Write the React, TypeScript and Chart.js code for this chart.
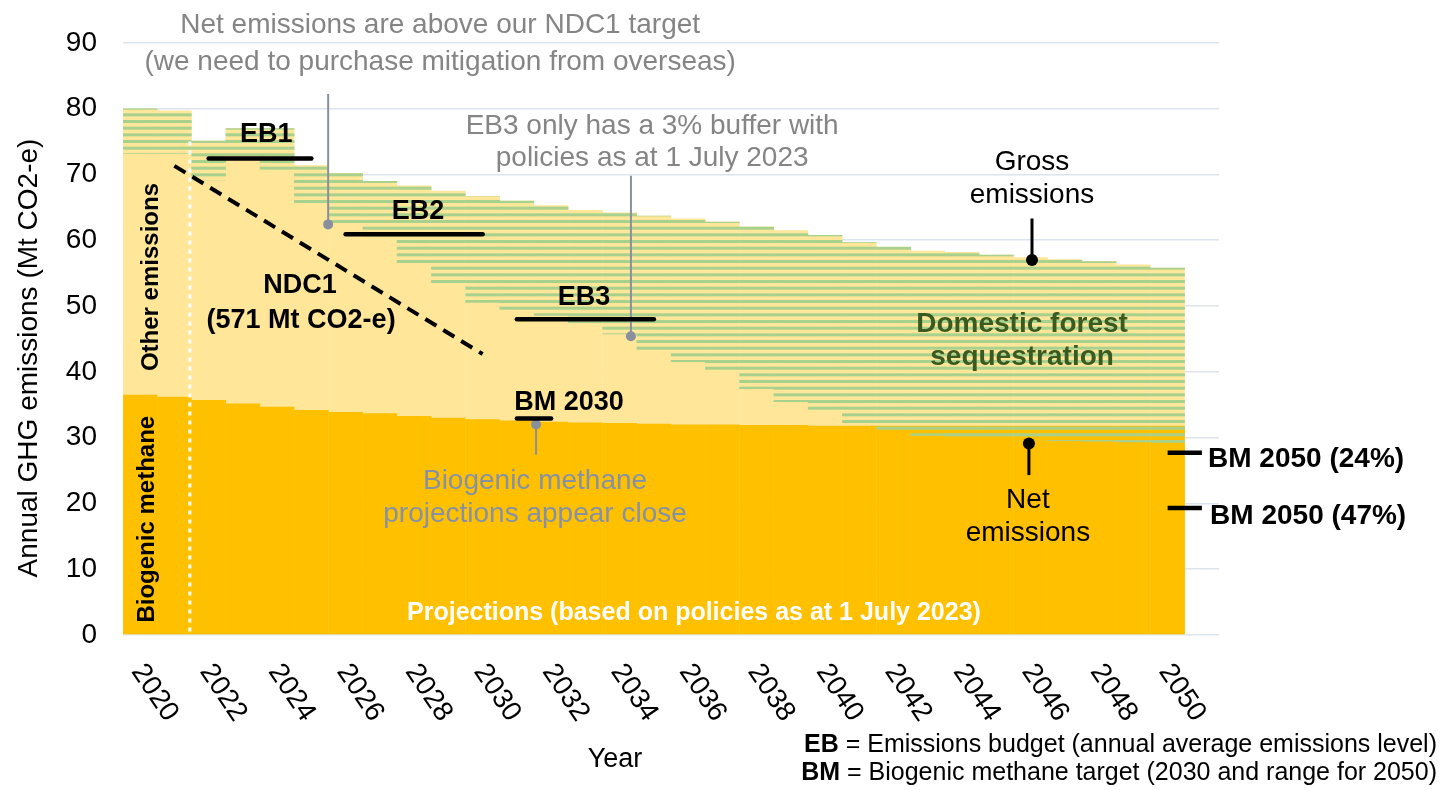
import React, { useEffect, useRef } from 'react';
import { Chart, registerables } from 'chart.js';

Chart.register(...registerables);

// ---------------- data ----------------
const years = [
  2020, 2021, 2022, 2023, 2024, 2025, 2026, 2027, 2028, 2029, 2030,
  2031, 2032, 2033, 2034, 2035, 2036, 2037, 2038, 2039, 2040,
  2041, 2042, 2043, 2044, 2045, 2046, 2047, 2048, 2049, 2050,
];
const grossEmissions = [
  80.0, 79.7, 75.1, 77.0, 77.0, 71.4, 70.2, 69.0, 68.3, 67.5, 66.7,
  66.0, 65.3, 64.6, 64.2, 63.7, 63.3, 62.8, 62.1, 61.5, 60.8,
  59.7, 59.0, 58.4, 58.2, 57.8, 57.4, 57.1, 56.8, 56.3, 55.8,
];
const netEmissions = [
  73.1, 73.1, 69.1, 72.8, 70.6, 65.3, 62.3, 60.1, 56.3, 53.5, 50.5,
  49.3, 48.5, 47.0, 45.7, 43.0, 41.5, 40.2, 37.4, 35.4, 33.9,
  31.8, 31.0, 30.3, 30.0, 29.8, 29.6, 29.5, 29.4, 29.3, 29.2,
];
const biogenicMethane = [
  36.5, 36.2, 35.7, 35.2, 34.7, 34.2, 33.9, 33.7, 33.3, 33.0, 32.8,
  32.6, 32.4, 32.3, 32.2, 32.1, 32.0, 32.0, 31.9, 31.9, 31.8,
  31.8, 31.8, 31.8, 31.8, 31.8, 31.8, 31.8, 31.8, 31.8, 31.8,
];
const xTickYears = [2020, 2022, 2024, 2026, 2028, 2030, 2032, 2034, 2036, 2038, 2040, 2042, 2044, 2046, 2048, 2050];

const emissionsBudgets = [
  { label: 'EB1', from: 2022, to: 2025, value: 72.4 },
  { label: 'EB2', from: 2026, to: 2030, value: 60.9 },
  { label: 'EB3', from: 2031, to: 2035, value: 48.0 },
];
const bm2030Target = { from: 2031, to: 2032, value: 32.9 };
const bm2050Targets = [
  { label: 'BM 2050 (24%)', from: 2050, to: 2051, value: 27.7 },
  { label: 'BM 2050 (47%)', from: 2050, to: 2051, value: 19.3 },
];
const ndc1Path = [
  { x: 2021, y: 71.3 },
  { x: 2030, y: 42.7 },
];
const projectionStart = { x: 2021.45, top: 75, bottom: 0 };

// pointer lines: dot at "to"
const pointers = [
  { x: 2025.49, from: 82.2, to: 62.4, tone: 'gray' },
  { x: 2034.33, from: 69.8, to: 45.4, tone: 'gray' },
  { x: 2031.56, from: 27.4, to: 32.0, tone: 'gray' },
  { x: 2046.04, from: 63.3, to: 57.0, tone: 'black' },
  { x: 2045.95, from: 24.3, to: 29.1, tone: 'black' },
];

// annotation texts (placed in data coordinates)
const annotations = [
  { text: 'Net emissions are above our NDC1 target', x: 2028.76, y: 92.7, kind: 'note' },
  { text: '(we need to purchase mitigation from overseas)', x: 2028.76, y: 87.1, kind: 'note' },
  { text: 'EB3 only has a 3% buffer with', x: 2034.95, y: 77.3, kind: 'note' },
  { text: 'policies as at 1 July 2023', x: 2034.95, y: 72.4, kind: 'note' },
  { text: 'Gross', x: 2046.04, y: 71.9, kind: 'plain' },
  { text: 'emissions', x: 2046.04, y: 66.8, kind: 'plain' },
  { text: 'Domestic forest', x: 2045.75, y: 47.2, kind: 'forest' },
  { text: 'sequestration', x: 2045.75, y: 42.2, kind: 'forest' },
  { text: 'Net', x: 2045.92, y: 20.4, kind: 'plain' },
  { text: 'emissions', x: 2045.92, y: 15.4, kind: 'plain' },
  { text: 'EB1', x: 2023.68, y: 76.1, kind: 'bold' },
  { text: 'EB2', x: 2028.11, y: 64.4, kind: 'bold' },
  { text: 'EB3', x: 2032.96, y: 51.3, kind: 'bold' },
  { text: 'BM 2030', x: 2032.52, y: 35.4, kind: 'bold' },
  { text: 'NDC1', x: 2024.67, y: 53.1, kind: 'bold' },
  { text: '(571 Mt CO2-e)', x: 2024.7, y: 47.8, kind: 'bold' },
  { text: 'Biogenic methane', x: 2031.53, y: 23.4, kind: 'note2' },
  { text: 'projections appear close', x: 2031.53, y: 18.4, kind: 'note2' },
  { text: 'Projections (based on policies as at 1 July 2023)', x: 2036.17, y: 3.3, kind: 'white' },
  { text: 'BM 2050 (24%)', x: 2051.18, y: 26.7, kind: 'boldLeft' },
  { text: 'BM 2050 (47%)', x: 2051.24, y: 18.1, kind: 'boldLeft' },
  { text: 'Other emissions', x: 2020.32, y: 54.4, kind: 'vertical' },
  { text: 'Biogenic methane', x: 2020.2, y: 17.6, kind: 'vertical' },
];

const yAxisTitle = 'Annual GHG emissions (Mt CO2-e)';
const xAxisTitle = 'Year';
const legendLines = [
  { key: 'EB', rest: ' = Emissions budget (annual average emissions level)' },
  { key: 'BM', rest: ' = Biogenic methane target (2030 and range for 2050)' },
];

// ---------------- styles ----------------
const FONT = '"Liberation Sans", Arial, Helvetica, sans-serif';
const ORANGE = '#FFC000';
const LIGHT = '#FFE699';
const GREEN = '#A9D18E';
const GRAY_LINE = '#8a8f9e';

const kindStyle: Record<string, { font: string; color: string; align: CanvasTextAlign; rot?: number }> = {
  note: { font: `28px ${FONT}`, color: '#858585', align: 'center' },
  note2: { font: `28px ${FONT}`, color: '#8791a6', align: 'center' },
  plain: { font: `28px ${FONT}`, color: '#000000', align: 'center' },
  forest: { font: `bold 28px ${FONT}`, color: '#3b5a20', align: 'center' },
  bold: { font: `bold 27px ${FONT}`, color: '#000000', align: 'center' },
  boldLeft: { font: `bold 28px ${FONT}`, color: '#000000', align: 'left' },
  white: { font: `bold 25px ${FONT}`, color: '#ffffff', align: 'center' },
  vertical: { font: `bold 24px ${FONT}`, color: '#000000', align: 'center', rot: -Math.PI / 2 },
};

function makeStripePattern(ctx: CanvasRenderingContext2D) {
  const c = document.createElement('canvas');
  c.width = 4;
  c.height = 20;
  const g = c.getContext('2d')!;
  g.fillStyle = GREEN;
  for (let k = 0; k < 3; k++) g.fillRect(0, (k * 20) / 3, 4, 3);
  return ctx.createPattern(c, 'repeat') as CanvasPattern;
}

const textPlugin = {
  id: 'textLayer',
  afterDatasetsDraw(chart: any) {
    const { ctx, scales } = chart;
    const xs = scales.x;
    const ys = scales.y;
    ctx.save();
    for (const a of annotations) {
      const st = kindStyle[a.kind];
      const px = xs.getPixelForValue(a.x);
      const py = ys.getPixelForValue(a.y);
      ctx.save();
      ctx.translate(px, py);
      if (st.rot) ctx.rotate(st.rot);
      ctx.font = st.font;
      ctx.fillStyle = st.color;
      ctx.textAlign = st.align;
      ctx.textBaseline = 'middle';
      ctx.fillText(a.text, 0, 0);
      ctx.restore();
    }
    ctx.restore();
  },
  afterDraw(chart: any) {
    const { ctx, scales, chartArea } = chart;
    const xs = scales.x;
    ctx.save();
    // x tick labels, rotated clockwise
    ctx.font = `28px ${FONT}`;
    ctx.fillStyle = '#000';
    ctx.textAlign = 'left';
    ctx.textBaseline = 'middle';
    for (const yr of xTickYears) {
      const px = xs.getPixelForValue(yr);
      ctx.save();
      ctx.translate(px - 3, chartArea.bottom + 32);
      ctx.rotate((56 * Math.PI) / 180);
      ctx.fillText(String(yr), 0, 0);
      ctx.restore();
    }
    // x title
    ctx.font = `27px ${FONT}`;
    ctx.textAlign = 'center';
    ctx.fillText(xAxisTitle, 615, 760);
    // y title
    ctx.save();
    ctx.translate(29, 358);
    ctx.rotate(-Math.PI / 2);
    ctx.font = `28px ${FONT}`;
    ctx.fillText(yAxisTitle, 0, 0);
    ctx.restore();
    // legend (right aligned)
    const right = 1437;
    const ly = [745, 773];
    legendLines.forEach((l, i) => {
      ctx.font = `25px ${FONT}`;
      const wRest = ctx.measureText(l.rest).width;
      ctx.font = `bold 25px ${FONT}`;
      const wKey = ctx.measureText(l.key).width;
      ctx.textAlign = 'left';
      ctx.fillText(l.key, right - wRest - wKey, ly[i]);
      ctx.font = `25px ${FONT}`;
      ctx.fillText(l.rest, right - wRest, ly[i]);
    });
    ctx.restore();
  },
};

export default function App() {
  const ref = useRef<HTMLCanvasElement | null>(null);

  useEffect(() => {
    const canvas = ref.current!;
    const ctx = canvas.getContext('2d')!;
    const stripes = makeStripePattern(ctx);

    const lineBase = {
      type: 'line' as const,
      pointRadius: 0,
      pointHoverRadius: 0,
      fill: false,
      tension: 0,
      order: 0,
    };

    const datasets: any[] = [
      {
        type: 'bar',
        label: 'Gross emissions',
        data: years.map((yr, i) => ({ x: yr, y: grossEmissions[i] })),
        backgroundColor: LIGHT,
        grouped: false,
        barPercentage: 1.01,
        categoryPercentage: 1,
        borderWidth: 0,
        order: 3,
      },
      {
        type: 'bar',
        label: 'Biogenic methane',
        data: years.map((yr, i) => ({ x: yr, y: biogenicMethane[i] })),
        backgroundColor: ORANGE,
        grouped: false,
        barPercentage: 1.01,
        categoryPercentage: 1,
        borderWidth: 0,
        order: 2,
      },
      {
        type: 'bar',
        label: 'Domestic forest sequestration',
        data: years.map((yr, i) => ({ x: yr, y: [netEmissions[i], grossEmissions[i]] })),
        backgroundColor: stripes,
        grouped: false,
        barPercentage: 1.01,
        categoryPercentage: 1,
        borderWidth: 0,
        borderSkipped: false,
        order: 1,
      },
      {
        ...lineBase,
        label: 'Projection start',
        data: [
          { x: projectionStart.x, y: projectionStart.top },
          { x: projectionStart.x, y: projectionStart.bottom },
        ],
        borderColor: '#ffffff',
        borderWidth: 3,
        borderDash: [4, 5],
      },
      {
        ...lineBase,
        label: 'NDC1',
        data: ndc1Path,
        borderColor: '#000000',
        borderWidth: 4,
        borderDash: [13, 8],
      },
      ...emissionsBudgets.map((b) => ({
        ...lineBase,
        label: b.label,
        data: [
          { x: b.from, y: b.value },
          { x: b.to, y: b.value },
        ],
        borderColor: '#000000',
        borderWidth: 4.5,
        borderCapStyle: 'round',
      })),
      {
        ...lineBase,
        label: 'BM 2030',
        data: [
          { x: bm2030Target.from, y: bm2030Target.value },
          { x: bm2030Target.to, y: bm2030Target.value },
        ],
        borderColor: '#000000',
        borderWidth: 4.5,
        borderCapStyle: 'round',
      },
      ...bm2050Targets.map((b) => ({
        ...lineBase,
        label: b.label,
        data: [
          { x: b.from, y: b.value },
          { x: b.to, y: b.value },
        ],
        borderColor: '#000000',
        borderWidth: 4.5,
        clip: false,
      })),
      ...pointers.map((p, i) => {
        const col = p.tone === 'gray' ? GRAY_LINE : '#000000';
        return {
          ...lineBase,
          label: 'pointer' + i,
          data: [
            { x: p.x, y: p.from },
            { x: p.x, y: p.to },
          ],
          borderColor: col,
          borderWidth: p.tone === 'gray' ? 2 : 3,
          pointRadius: [0, p.tone === 'gray' ? 5 : 6],
          pointBackgroundColor: col,
          pointBorderWidth: 0,
          clip: false,
        };
      }),
    ];

    const chart = new Chart(ctx, {
      type: 'bar',
      data: { datasets },
      options: {
        animation: false,
        responsive: true,
        maintainAspectRatio: false,
        layout: { padding: { top: 38, right: 223, bottom: 0, left: 0 } },
        plugins: {
          legend: { display: false },
          tooltip: { enabled: false },
          title: { display: false },
        },
        events: [],
        scales: {
          x: {
            type: 'linear',
            min: 2019.5,
            max: 2051.5,
            offset: false,
            grid: { display: false },
            border: { display: false },
            ticks: { display: false },
            afterFit: (s: any) => {
              s.height = 155;
            },
          },
          y: {
            type: 'linear',
            min: 0,
            max: 90,
            ticks: {
              stepSize: 10,
              color: '#000000',
              padding: 26,
              font: { size: 28, family: FONT },
            },
            grid: { color: '#dde4ee', lineWidth: 1.5, drawTicks: false },
            border: { display: false },
            afterFit: (s: any) => {
              s.width = 123;
            },
          },
        },
      } as any,
      plugins: [textPlugin],
    });

    return () => chart.destroy();
  }, []);

  return (
    <div style={{ position: 'absolute', left: 0, top: 0, width: 1442, height: 790, background: '#fff' }}>
      <canvas ref={ref} />
    </div>
  );
}
